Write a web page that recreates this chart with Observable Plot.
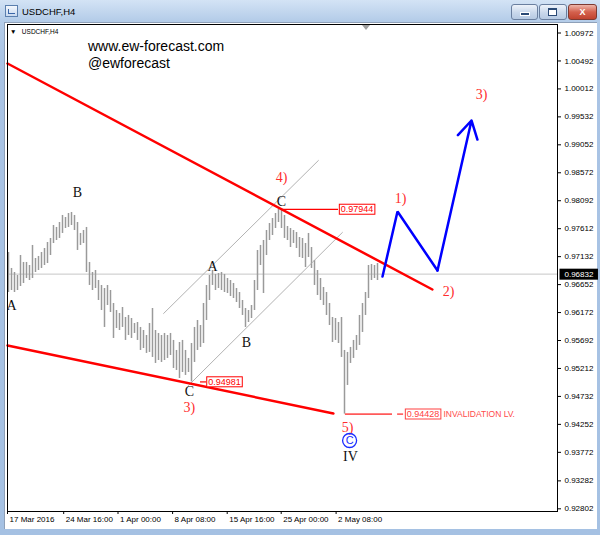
<!DOCTYPE html>
<html>
<head>
<meta charset="utf-8">
<script src="https://cdn.jsdelivr.net/npm/d3@7"></script>
<script src="https://cdn.jsdelivr.net/npm/@observablehq/plot@0.6"></script>
<style>
html,body{margin:0;padding:0}
body{width:600px;height:535px;position:relative;overflow:hidden;
 background:linear-gradient(to bottom,#d3e3f5 0px,#b5cde9 20px,#aac4e5 60px,#a5c1e3 100%);
 font-family:"Liberation Sans",Arial,sans-serif}
.abs{position:absolute}
#icon{left:5px;top:5px;width:11px;height:10px;border:1px solid #5b7fae;background:linear-gradient(#f4f8fd,#c9d9ee)}
#icon::after{content:"";position:absolute;left:2px;top:3px;width:6px;height:4px;border-left:1px solid #3a66a8;border-bottom:1px solid #3a66a8}
#title{left:22px;top:6px;font-size:9.5px;line-height:12px;color:#000}
.btn{top:4px;height:14px;border:1px solid #6a7f9f;border-radius:3px;background:linear-gradient(#eef3fa,#c9d8eb 55%,#b6c9e2)}
#bmin{left:511px;width:25px}
#bmin::after{content:"";position:absolute;left:8px;top:7px;width:8px;height:2px;background:#2b4a75;border:1px solid #fff}
#bmax{left:539px;width:26px}
#bmax::after{content:"";position:absolute;left:8px;top:3px;width:7px;height:5px;border:1px solid #2b4a75;border-top-width:2px;background:#fff}
#bcls{left:568px;width:27px;border-color:#7d3a32;background:linear-gradient(#eeb6aa,#d4614e 50%,#c0432f);color:#fff;font-weight:bold;font-size:9px;line-height:14px;text-align:center}
#panel{left:4px;top:22px;width:592px;height:506px;background:#fff;border-top:1px solid #8ea0b8;border-left:1px solid #8ea0b8}
#chart{left:0;top:0}
#inner{left:10px;top:27px;font-size:6.5px;line-height:10px;color:#000}
#shift{left:362px;top:25px;width:0;height:0;border-left:4px solid transparent;border-right:4px solid transparent;border-top:5px solid #a0a0a0}
.wm{left:88px;font-size:14px;line-height:16px;color:#000}
</style>
</head>
<body>
<div id="icon" class="abs"></div>
<div id="title" class="abs">USDCHF,H4</div>
<div id="bmin" class="abs btn"></div>
<div id="bmax" class="abs btn"></div>
<div id="bcls" class="abs btn">X</div>
<div id="panel" class="abs"></div>
<div id="shift" class="abs"></div>
<div id="inner" class="abs">&#9660;&nbsp;&nbsp;&nbsp;USDCHF,H4</div>
<div class="abs wm" style="top:38px">www.ew-forecast.com</div>
<div class="abs wm" style="top:55px">@ewforecast</div>
<div id="chart" class="abs"></div>
<script>
// ---- price bars (H4; high / low per bar) ----
const barHigh = [
0.97203,0.96929,0.96860,0.96808,0.97152,0.97032,0.97032,0.96980,0.97324,0.97100,
0.97135,0.97203,0.97272,0.97375,0.97444,0.97667,0.97633,0.97718,0.97839,0.97804,
0.97873,0.97890,0.97839,0.97718,0.97530,0.97581,0.97633,0.97032,0.96860,0.96894,
0.96722,0.96637,0.96585,0.96637,0.96551,0.96327,0.96207,0.96156,0.96259,0.96087,
0.96122,0.96070,0.95984,0.96001,0.95916,0.95864,0.95778,0.95984,0.96242,0.95864,
0.95813,0.95778,0.95813,0.95778,0.95813,0.95693,0.95521,0.95658,0.95693,0.95521,
0.95384,0.95641,0.95916,0.96036,0.95950,0.96327,0.96637,0.96808,0.96894,0.96826,
0.96843,0.96860,0.96826,0.96757,0.96722,0.96671,0.96585,0.96516,0.96379,0.96242,
0.96207,0.96293,0.96722,0.97238,0.97324,0.97409,0.97581,0.97701,0.97787,0.97873,
0.97944,0.97924,0.97839,0.97650,0.97615,0.97581,0.97547,0.97461,0.97444,0.97358,
0.97530,0.97289,0.97066,0.96894,0.96757,0.96602,0.96516,0.96327,0.96087,0.96070,
0.96001,0.96087,0.95521,0.95487,0.95573,0.95693,0.95778,0.96122,0.96327,0.96516,
0.96980,0.96997,0.96980,0.97014];
const barLow = [
0.96516,0.96551,0.96516,0.96551,0.96619,0.96671,0.96757,0.96722,0.96757,0.96860,
0.96894,0.96929,0.96980,0.97014,0.97152,0.97358,0.97409,0.97444,0.97530,0.97615,
0.97633,0.97667,0.97581,0.97238,0.97324,0.97358,0.96860,0.96637,0.96551,0.96585,
0.96379,0.96207,0.95916,0.96293,0.96173,0.95727,0.95898,0.95864,0.95916,0.95693,
0.95778,0.95727,0.95813,0.95693,0.95521,0.95555,0.95470,0.95487,0.95401,0.95298,
0.95349,0.95315,0.95349,0.95384,0.95435,0.95212,0.95178,0.95040,0.95143,0.95092,
0.95143,0.94981,0.95315,0.95521,0.95573,0.95641,0.96036,0.96379,0.96637,0.96551,
0.96585,0.96551,0.96516,0.96499,0.96448,0.96413,0.96345,0.96242,0.96122,0.95916,
0.96001,0.96070,0.96207,0.96551,0.96980,0.96499,0.97152,0.97409,0.97495,0.97615,
0.97718,0.97615,0.97444,0.97409,0.97289,0.97358,0.97272,0.97117,0.97100,0.96946,
0.97117,0.96929,0.96637,0.96465,0.96379,0.96293,0.96122,0.95950,0.95658,0.95693,
0.95641,0.95401,0.94428,0.94920,0.95298,0.95384,0.95521,0.95607,0.95830,0.96122,
0.96413,0.96722,0.96757,0.96722];
const lastClose = 0.96832;

// ---- axes ----
const yTicks = [1.00972,1.00492,1.00012,0.99532,0.99052,0.98572,0.98092,0.97612,0.97132,
                0.96652,0.96172,0.95692,0.95212,0.94732,0.94252,0.93772,0.93282,0.92802];
const timeLabels = ["17 Mar 2016","24 Mar 16:00","1 Apr 00:00","8 Apr 08:00","15 Apr 16:00","25 Apr 00:00","2 May 08:00"];
const timeIdx = [-0.33,18.4,36.5,54.7,72.9,90.9,109.2];   // bar index of each time label

// ---- drawings (bar index, price) ----
const trendUpper = [{i:-0.33,p:1.00448},{i:141.3,p:0.96568}];
const trendLower = [{i:-0.33,p:0.95607},{i:108.3,p:0.94439}];
const chanUpper  = [{i:51.7,p:0.96156},{i:103.3,p:0.98783}];
const chanLower  = [{i:60,p:0.94920},{i:111.3,p:0.97547}];
const bluePath   = [{i:124.67,p:0.96791},{i:129.67,p:0.97907},{i:143,p:0.96894},{i:154.33,p:0.99470}];

const levelPrice = [0.97944, 0.94981, 0.94428];
const levelFrom  = [91, 64, 112.3];
const levelTo    = [110, 66, 128];
const levelBox   = [116.2, 72, 138.2];
const invalDash  = [129.7, 131.7];
const invalText  = "INVALIDATION LV.";
const invalIdx   = 145;

const blackLabels = [
  {t:"A", i:1.0,  p:0.96293},
  {t:"B", i:23,   p:0.98233},
  {t:"C", i:60.3, p:0.94816},
  {t:"A", i:68,   p:0.96963},
  {t:"B", i:79.3, p:0.95658},
  {t:"C", i:91,   p:0.98079},
  {t:"IV",i:114,  p:0.93700}
];
const redLabels = [
  {t:"3)", i:60.3,  p:0.94542},
  {t:"4)", i:91,    p:0.98491},
  {t:"5)", i:113,   p:0.94198},
  {t:"1)", i:130.7, p:0.98130},
  {t:"2)", i:146.7, p:0.96533},
  {t:"3)", i:157.7, p:0.99916}
];
const circled = [{t:"C", i:113.7, p:0.93975}];

// ---- build ----
const bars = barHigh.map((h, i) => ({i, high: h, low: barLow[i]}));
const levels = levelPrice.map((p, k) => ({p, a: levelFrom[k], b: levelTo[k], box: levelBox[k], k}));
const RED = "#ff0000", LRED = "#ff5a5a", TXTRED = "#ff2d2d";

const svg = Plot.plot({
  width: 600, height: 535,
  marginLeft: 7, marginRight: 43, marginTop: 24, marginBottom: 24,
  x: {domain: [-1/3, 183], axis: "bottom", ticks: timeIdx, tickFormat: () => "", tickSize: 3, label: null},
  y: {domain: [0.92756, 1.01118], axis: "right", ticks: yTicks, tickFormat: d => d.toFixed(5), tickSize: 3, tickPadding: 4, label: null},
  style: {background: "transparent", fontFamily: "Liberation Sans, Arial, sans-serif", fontSize: "8px", overflow: "visible", color: "#000"},
  marks: [
    Plot.ruleY([lastClose], {y: d => d, stroke: "#c6c6c6"}),
    Plot.ruleX(bars, {x: "i", y1: "low", y2: "high", stroke: "#9a9a9a", strokeWidth: 1.5}),
    Plot.line(chanUpper, {x: "i", y: "p", stroke: "#a9a9a9", strokeWidth: 0.9}),
    Plot.line(chanLower, {x: "i", y: "p", stroke: "#a9a9a9", strokeWidth: 0.9}),
    Plot.line(trendUpper, {x: "i", y: "p", stroke: RED, strokeWidth: 2.5}),
    Plot.line(trendLower, {x: "i", y: "p", stroke: RED, strokeWidth: 2.5}),
    Plot.ruleY(levels, {y: "p", x1: "a", x2: "b", stroke: d => d.k === 2 ? LRED : RED, strokeWidth: d => d.k === 2 ? 1.6 : 1.2}),
    Plot.ruleY([levelPrice[2]], {y: d => d, x1: () => invalDash[0], x2: () => invalDash[1], stroke: LRED, strokeWidth: 1.6}),
    Plot.line(bluePath.slice(0, 3), {x: "i", y: "p", stroke: "#0000ff", strokeWidth: 2.5, strokeLinejoin: "miter"}),
    Plot.arrow([{a: bluePath[2], b: bluePath[3]}], {x1: d => d.a.i, y1: d => d.a.p, x2: d => d.b.i, y2: d => d.b.p,
      stroke: "#0000ff", strokeWidth: 2.5, headLength: 12}),
    Plot.text(levels, {x: "box", y: "p", text: d => d.p.toFixed(5), fill: d => d.k === 2 ? "#ff4040" : RED, fontSize: 9}),
    Plot.text([invalText], {x: () => invalIdx, y: () => levelPrice[2], text: d => d, textAnchor: "start", fill: "#ff4a4a", fontSize: 8.5}),
    Plot.text(blackLabels, {x: "i", y: "p", text: "t", fill: "#111", fontSize: 14, fontFamily: "Liberation Serif, Times New Roman, serif", clip: true}),
    Plot.text(redLabels, {x: "i", y: "p", text: "t", fill: TXTRED, fontSize: 14, fontFamily: "Liberation Serif, Times New Roman, serif"}),
    Plot.dot(circled, {x: "i", y: "p", r: 7, stroke: "#1a2cff", strokeWidth: 1.3, fill: "none"}),
    Plot.text(circled, {x: "i", y: "p", text: "t", fill: "#1a2cff", fontSize: 11}),
    Plot.text(timeIdx, {x: d => d, text: (d, k) => timeLabels[k], frameAnchor: "bottom", dy: 10, dx: 2, textAnchor: "start", fontSize: 8}),
    Plot.text([lastClose], {y: d => d, text: d => d.toFixed(5), frameAnchor: "right", dx: 7, textAnchor: "start", fill: "#fff", fontSize: 8}),
    Plot.frame({stroke: "#000"})
  ]
});
document.getElementById("chart").append(svg);

// boxes behind price labels, sized from the rendered text
const NS = "http://www.w3.org/2000/svg";
function boxLabel(str, fill, stroke, padL, padR, padT, padB) {
  const base = svg.getBoundingClientRect();
  for (const t of svg.querySelectorAll("text")) {
    if (t.textContent !== str) continue;
    const r = t.getBoundingClientRect();
    let top = t; while (top.parentNode !== svg) top = top.parentNode;
    const rect = document.createElementNS(NS, "rect");
    rect.setAttribute("x", r.left - base.left - padL);
    rect.setAttribute("y", r.top - base.top - padT);
    rect.setAttribute("width", r.width + padL + padR);
    rect.setAttribute("height", r.height + padT + padB);
    rect.setAttribute("fill", fill);
    if (stroke) { rect.setAttribute("stroke", stroke); rect.setAttribute("stroke-width", 1); }
    svg.insertBefore(rect, top);
  }
}
boxLabel(levelPrice[0].toFixed(5), "#fff", RED, 1.5, 1.5, 0, 0);
boxLabel(levelPrice[1].toFixed(5), "#fff", RED, 1.5, 1.5, 0, 0);
boxLabel(levelPrice[2].toFixed(5), "#fff", "#ff4040", 1.5, 1.5, 0, 0);
boxLabel(lastClose.toFixed(5), "#000", null, 5, 4, 1, 1);
</script>
</body>
</html>
